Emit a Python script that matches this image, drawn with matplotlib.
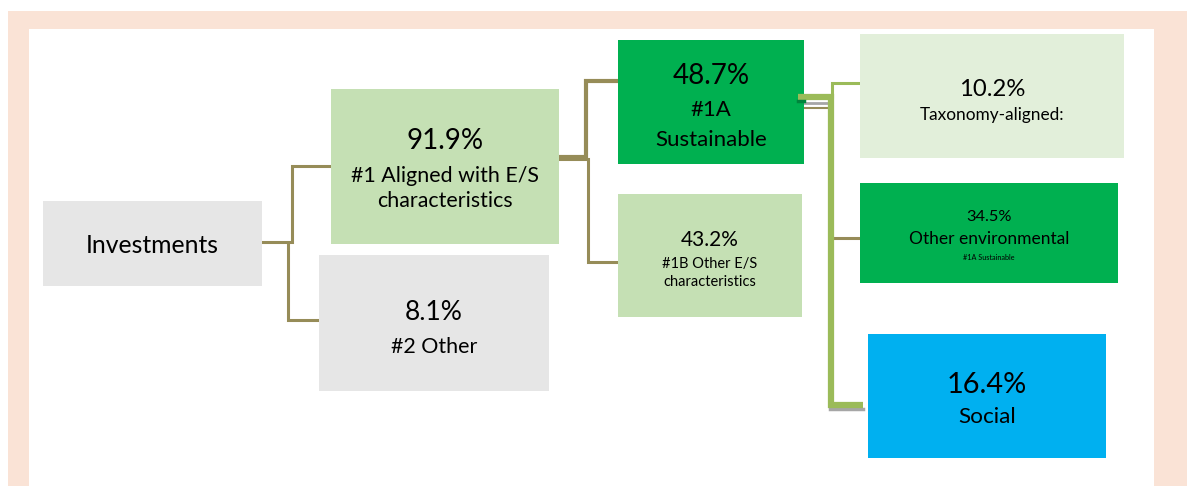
import matplotlib
matplotlib.use("Agg")
import matplotlib.pyplot as plt
from matplotlib.patches import Rectangle

plt.rcParams["font.family"] = ["Lato", "DejaVu Sans"]

# data
node_keys = ["inv", "aligned", "other", "sust", "other_es", "taxo", "env", "social"]
node_pct = ["", "91.9%", "8.1%", "48.7%", "43.2%", "10.2%", "34.5%", "16.4%"]
node_label = [["Investments"], ["#1 Aligned with E/S", "characteristics"], ["#2 Other"],
              ["#1A", "Sustainable"], ["#1B Other E/S", "characteristics"],
              ["Taxonomy-aligned:"], ["Other environmental"], ["Social"]]
node_note = ["", "", "", "", "", "", "#1A Sustainable", ""]

# layout (pixels: x0, y0, x1, y1)
boxes = {
    "inv": (43, 201, 262, 286),
    "aligned": (331, 89, 559, 244),
    "other": (319, 255, 549, 391),
    "sust": (618, 40, 804, 164),
    "other_es": (618, 194, 802, 317),
    "taxo": (860, 34, 1124, 158),
    "env": (860, 183, 1118, 283),
    "social": (868, 334, 1106, 458),
}
colors = {
    "inv": "#e6e6e6", "aligned": "#c5e0b4", "other": "#e6e6e6", "sust": "#00b050",
    "other_es": "#c5e0b4", "taxo": "#e2efda", "env": "#00b050", "social": "#00b0f0",
}
# (pct size, pct y), (label size, label line ys), (note size, note y)
pct_font = {
    "inv": (0, 0), "aligned": (20, 141), "other": (19, 312), "sust": (20, 76),
    "other_es": (15, 240), "taxo": (17.2, 90), "env": (11.8, 217), "social": (20.8, 385),
}
label_font = {
    "inv": (17.8, [245]),
    "aligned": (15.4, [176, 201]),
    "other": (15.4, [347]),
    "sust": (16, [110, 140]),
    "other_es": (10.5, [264, 282]),
    "taxo": (12.4, [115]),
    "env": (12.5, [239]),
    "social": (16.2, [417]),
}
note_font = {"env": (5.2, 257)}

W, H = 1187, 486
fig = plt.figure(figsize=(W / 100, H / 100), dpi=100)
ax = fig.add_axes([0, 0, 1, 1])
ax.set_xlim(0, W)
ax.set_ylim(H, 0)
ax.axis("off")

# peach frame
ax.add_patch(Rectangle((8, 11), W - 8, H - 11, color="#fae3d6", lw=0, zorder=0))
ax.add_patch(Rectangle((29, 29), 1154 - 29, H - 29, color="white", lw=0, zorder=0.5))

olive = "#968c58"
lg = "#9bbb59"


def elbow(pts, c=olive, lw=2.2, z=1.5):
    xs = [p[0] for p in pts]
    ys = [p[1] for p in pts]
    ax.plot(xs, ys, color=c, lw=lw, solid_joinstyle="miter", solid_capstyle="butt", zorder=z)


elbow([(258, 242), (292, 242), (292, 166), (331, 166)])
elbow([(288, 242), (288, 320), (319, 320)])
elbow([(555, 157), (586, 157), (586, 81), (618, 81)], lw=3)
elbow([(556, 159), (588, 159), (588, 262), (618, 262)])
# connectors from sustainable
ax.plot([830, 863], [409, 409], color="#a6a6a6", lw=2.5, zorder=1)
ax.plot([804, 828], [103, 103], color="#a6a6a6", lw=2, zorder=1)
ax.plot([804, 828], [108, 108], color=olive, lw=1.5, zorder=1)
elbow([(798, 97), (831, 97), (831, 405), (863, 405)], c=lg, lw=4.5, z=2.5)
ax.plot([798, 804], [101.5, 101.5], color="#00843c", lw=2.5, zorder=3)
elbow([(832, 98), (832, 83), (860, 83)], c=lg, lw=2.2)
elbow([(833, 238), (860, 238)], lw=2.2)

for i, k in enumerate(node_keys):
    x0, y0, x1, y1 = boxes[k]
    ax.add_patch(Rectangle((x0, y0), x1 - x0, y1 - y0, color=colors[k], lw=0, zorder=2))
    cx = (x0 + x1) / 2
    ps, py = pct_font[k]
    if node_pct[i]:
        ax.text(cx, py, node_pct[i], ha="center", va="center", fontsize=ps, color="black", zorder=3)
    ls, lys = label_font[k]
    for line, ly in zip(node_label[i], lys):
        ax.text(cx, ly, line, ha="center", va="center", fontsize=ls, color="black", zorder=3)
    if node_note[i]:
        ns, ny = note_font[k]
        ax.text(cx, ny, node_note[i], ha="center", va="center", fontsize=ns, color="black", zorder=3)

fig.savefig("out.png", dpi=100)
